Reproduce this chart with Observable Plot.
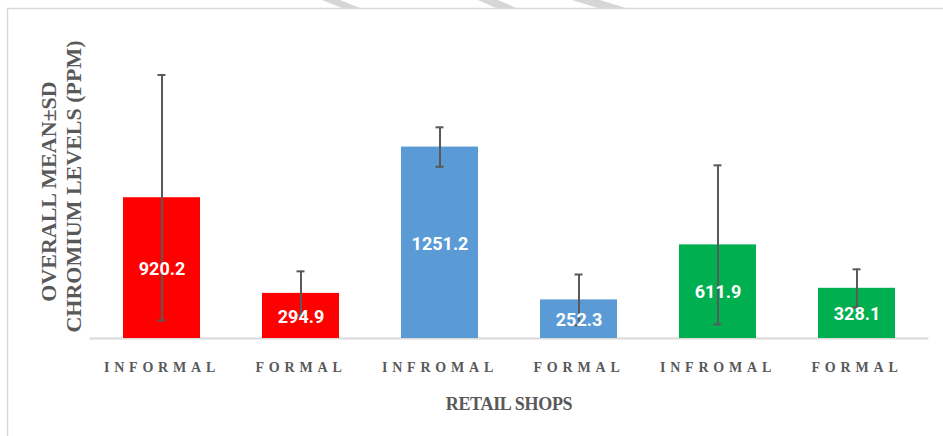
<!DOCTYPE html>
<html>
<head>
<meta charset="utf-8">
<script src="https://cdn.jsdelivr.net/npm/d3@7"></script>
<script src="https://cdn.jsdelivr.net/npm/@observablehq/plot@0.6"></script>
<style>
  html, body { margin: 0; padding: 0; background: #fff; }
  #chart { position: relative; width: 943px; height: 436px; overflow: hidden; }
  [aria-label="x-axis tick label"] text { letter-spacing: 4.8px; }
</style>
</head>
<body>
<div id="chart"></div>
<script>
const categories = ["INFORMAL", "FORMAL", "INFROMAL", "FORMAL", "INFROMAL", "FORMAL"];
const means = [920.2, 294.9, 1251.2, 252.3, 611.9, 328.1];
const sds = [802, 144, 129, 166, 520, 124];
const colors = ["#FF0000", "#FF0000", "#5B9BD5", "#5B9BD5", "#00B050", "#00B050"];
const valueLabels = ["920.2", "294.9", "1251.2", "252.3", "611.9", "328.1"];
const yTitleLines = ["OVERALL MEAN±SD", "CHROMIUM LEVELS (PPM)"];
const xTitle = "RETAIL SHOPS";

const data = categories.map((c, i) => ({
  i, cat: c, mean: means[i], sd: sds[i], color: colors[i], label: valueLabels[i]
}));

const plot = Plot.plot({
  width: 943,
  height: 436,
  marginLeft: 89.5,
  marginRight: 14.5,
  marginTop: 32,
  marginBottom: 98,
  style: { background: "transparent", overflow: "visible" },
  x: { domain: data.map(d => d.i), paddingInner: 0.443, paddingOuter: 0.2215, label: null },
  y: { domain: [0, 2000], axis: null },
  marks: [
    Plot.ruleY([0], { stroke: "#d9d9d9", strokeWidth: 2 }),
    Plot.barY(data, { x: "i", y: "mean", fill: "color" }),
    Plot.ruleX(data, { x: "i", y1: d => d.mean - d.sd, y2: d => d.mean + d.sd, stroke: "#595959", strokeWidth: 2 }),
    Plot.tickY(data, { x: "i", y: d => d.mean + d.sd, stroke: "#595959", strokeWidth: 2, insetLeft: 34.5, insetRight: 34.5 }),
    Plot.tickY(data, { x: "i", y: d => d.mean - d.sd, stroke: "#595959", strokeWidth: 2, insetLeft: 34.5, insetRight: 34.5 }),
    Plot.text(data, { x: "i", y: d => d.mean / 2, text: "label", fill: "white", fontSize: 18, fontWeight: "bold", fontFamily: "Roboto", dy: 1 }),
    Plot.axisX({
      tickSize: 0,
      tickPadding: 24,
      tickFormat: i => categories[i],
      fontSize: 14,
      fontWeight: "bold",
      fontFamily: "Liberation Serif",
      fill: "#595959",
      label: null
    })
  ]
});

document.getElementById("chart").appendChild(plot);

const svg = d3.select(plot);
// outer chart border
svg.insert("rect", ":first-child")
  .attr("x", 7.5).attr("y", 8.5).attr("width", 1000).attr("height", 1000)
  .attr("fill", "none").attr("stroke", "#d9d9d9").attr("stroke-width", 1.5);

// faint diagonal stripes above the frame (scan artifact)
[[322, 340, 360, 342], [478, 498, 516, 496], [572, 600, 626, 598]].forEach(([a, b, c, d]) => {
  svg.insert("polygon", ":first-child")
    .attr("points", `${a},0 ${b},0 ${c},8 ${d},8`)
    .attr("fill", "#d6d6d6");
});

// y-axis title (two lines)
const yCenters = [191.5, 186.5];
const xBase = [56, 81];
yTitleLines.forEach((t, k) => {
  svg.append("text")
    .attr("transform", `translate(${xBase[k]},${yCenters[k]}) rotate(-90)`)
    .attr("font-family", "Liberation Serif")
    .attr("font-weight", "bold")
    .attr("font-size", 22)
    .attr("fill", "#595959")
    .attr("text-anchor", "middle")
    .text(t);
});

// x-axis title
svg.append("text")
  .attr("x", 509).attr("y", 410)
  .attr("font-family", "Liberation Serif")
  .attr("font-weight", "bold")
  .attr("font-size", 18)
  .attr("letter-spacing", "-0.3px")
  .attr("fill", "#595959")
  .attr("text-anchor", "middle")
  .text(xTitle);
</script>
</body>
</html>
